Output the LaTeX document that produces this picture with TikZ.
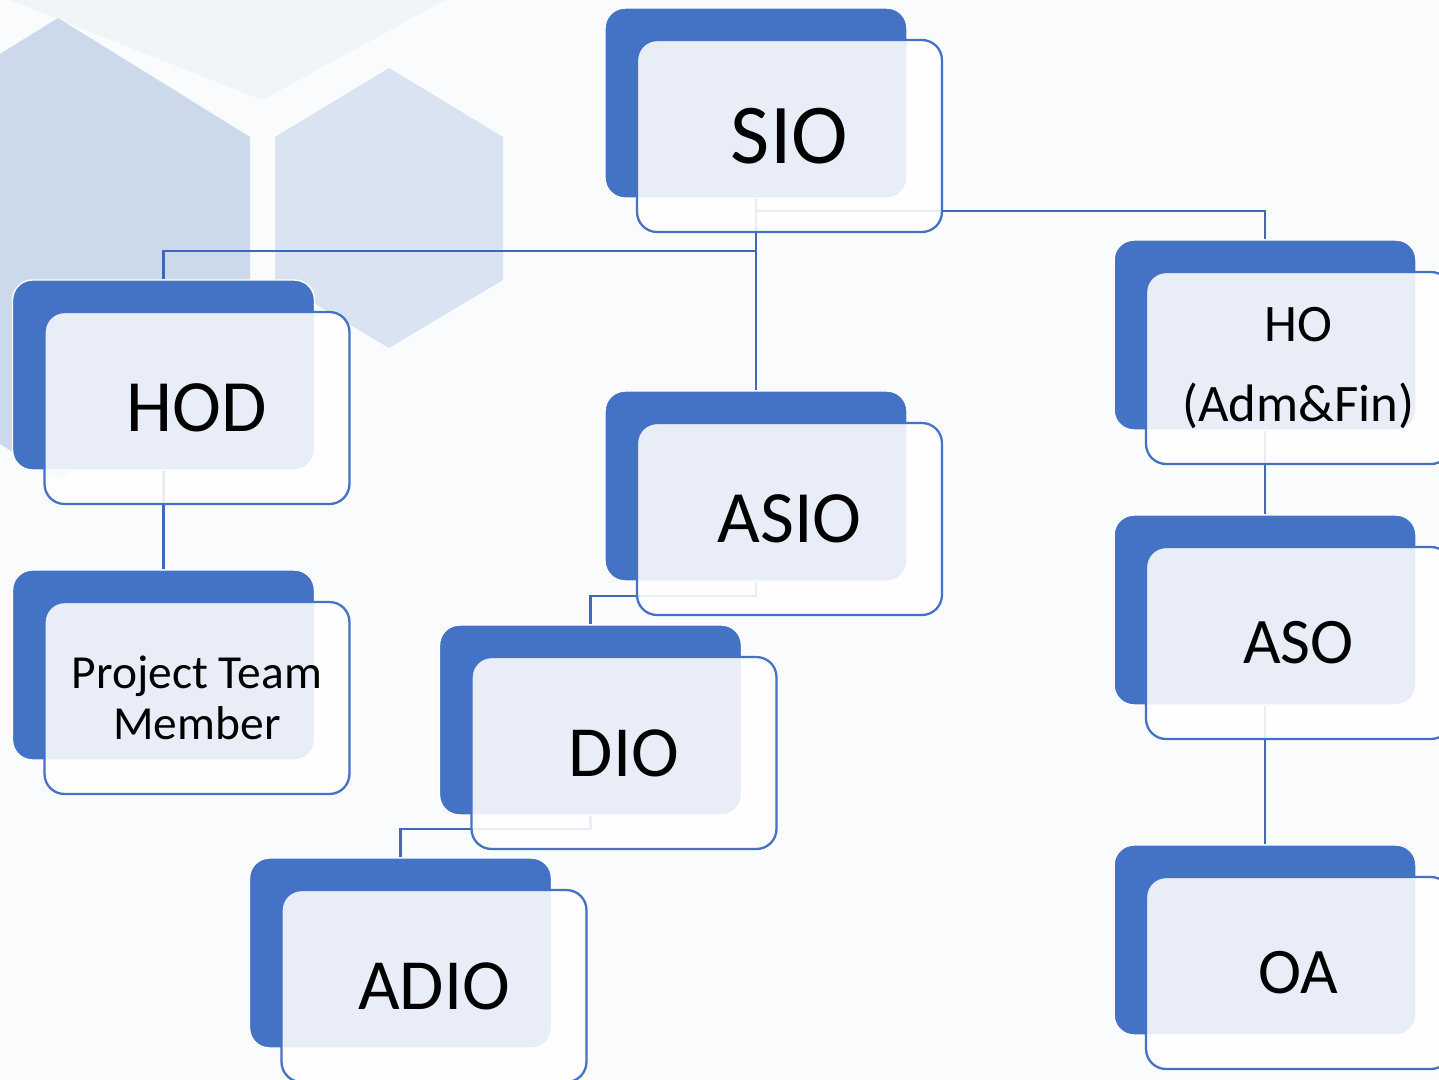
\documentclass[tikz,border=0pt]{standalone}
\usepackage{fontspec}
\setmainfont{Carlito}
\usetikzlibrary{positioning}

\definecolor{boxblue}{HTML}{4472C4}
\definecolor{linkblue}{HTML}{3F69B8}
\definecolor{hexA}{HTML}{CBD9EB}
\definecolor{hexB}{HTML}{D9E3F1}
\definecolor{hexC}{HTML}{F0F5F7}
\definecolor{paper}{HTML}{FAFBFD}

\begin{document}
\begin{tikzpicture}
    [
        x=0.02cm, y=-0.02cm,
        back/.style={rectangle, rounded corners=0.4cm, fill=boxblue, draw=white,
            line width=0.8pt, minimum width=6.04cm, minimum height=3.8cm, inner sep=0pt},
        front/.style={rectangle, rounded corners=0.4cm, draw=boxblue, line width=1.3pt,
            fill=white, fill opacity=0.88, text opacity=1, align=center,
            minimum width=6.1cm, minimum height=3.84cm, inner sep=0pt,
            xshift=0.67cm, yshift=-0.66cm},
        link/.style={draw=linkblue, line width=1.3pt},
    ]

    % background
    \useasboundingbox (0,0) rectangle (1439,1079);
    \clip (0,0) rectangle (1439,1079);
    \fill[paper] (0,0) rectangle (1439,1079);
    \fill[hexC] (10,0) -- (262,100) -- (445,0) -- cycle;
    \fill[hexA] (58,18) -- (250,137) -- (250,361) -- (58,480) -- (-134,361) -- (-134,137) -- cycle;
    \fill[hexB] (389,68) -- (503,137) -- (503,280) -- (389,348) -- (275,280) -- (275,137) -- cycle;

    % blue back boxes
    \node (sio)  at (756,103)    [back] {};
    \node (hod)  at (163.5,375)  [back] {};
    \node (ptm)  at (163.5,665)  [back] {};
    \node (asio) at (756,486)    [back] {};
    \node (dio)  at (590.5,720)  [back] {};
    \node (adio) at (400.5,953)  [back] {};
    \node (ho)   at (1265,335)   [back] {};
    \node (aso)  at (1265,610)   [back] {};
    \node (oa)   at (1265,940)   [back] {};

    % links
    \path[link]
    (sio.south)  -- ++(0,52) -| (hod.north)
    (sio.south)  -- (asio.north)
    (sio.south)  -- ++(0,12) -| (ho.north)
    (hod.south)  -- (ptm.north)
    (asio.south) -- ++(0,14) -| (dio.north)
    (dio.south)  -- ++(0,13) -| (adio.north)
    (ho.south)   -- (aso.north)
    (aso.south)  -- (oa.north);

    % front boxes with titles
    \node (sio-t)  at (sio)  [front, font=\fontsize{48.5}{50}\selectfont] {SIO};
    \node (hod-t)  at (hod)  [front, font=\fontsize{42}{44}\selectfont] {HOD};
    \node (ptm-t)  at (ptm)  [front, font=\fontsize{27}{29}\selectfont] {Project Team\\Member};
    \node (asio-t) at (asio) [front, font=\fontsize{42}{46}\selectfont] {ASIO};
    \node (dio-t)  at (dio)  [front, font=\fontsize{41}{46}\selectfont] {DIO};
    \node (adio-t) at (adio) [front, font=\fontsize{41}{46}\selectfont] {ADIO};
    \node (ho-t)   at (ho)   [front, font=\fontsize{30}{46}\selectfont] {HO\\(Adm\&Fin)};
    \node (aso-t)  at (aso)  [front, font=\fontsize{37}{40}\selectfont] {ASO};
    \node (oa-t)   at (oa)   [front, font=\fontsize{37}{40}\selectfont] {OA};

\end{tikzpicture}
\end{document}
